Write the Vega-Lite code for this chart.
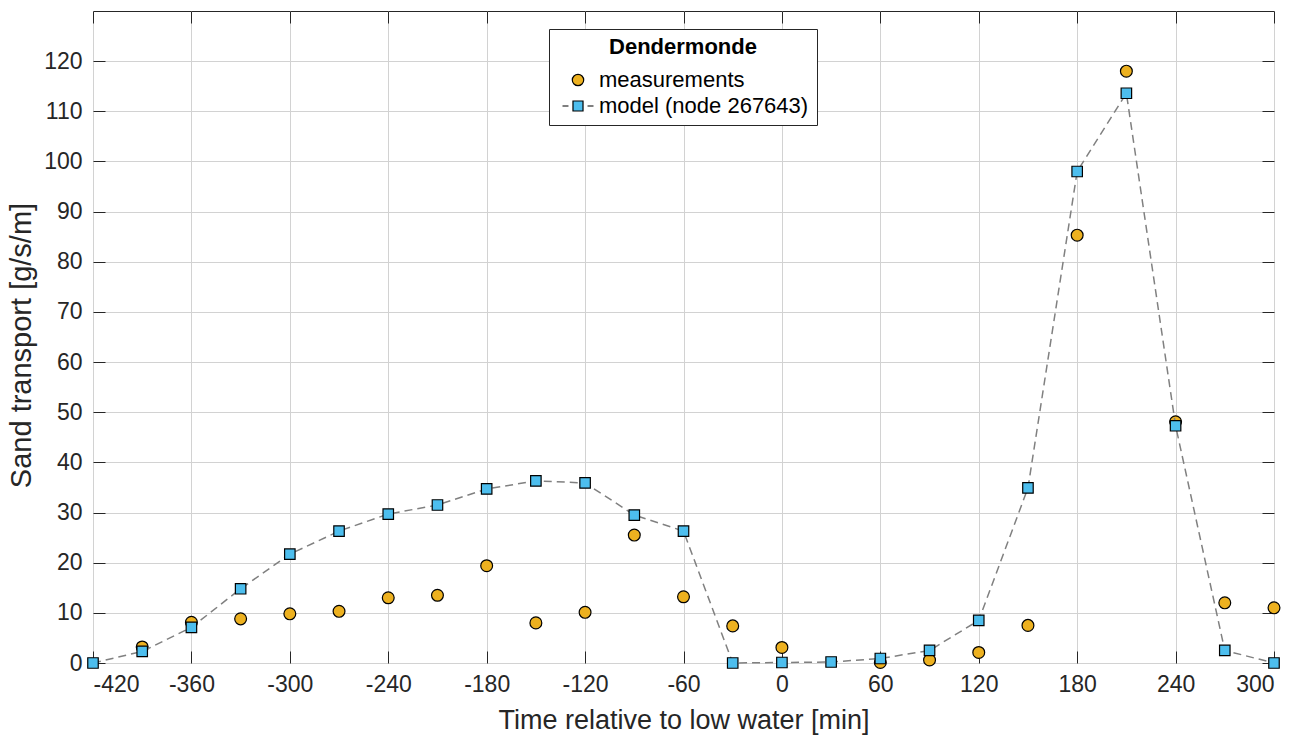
{
  "$schema": "https://vega.github.io/schema/vega-lite/v6.json",
  "width": 1181,
  "height": 652,
  "autosize": {"type": "none"},
  "padding": {"left": 93, "top": 11, "right": 35, "bottom": 79},
  "background": "white",
  "config": {
    "font": "Liberation Sans",
    "view": {"stroke": "#262626", "strokeWidth": 1},
    "axis": {
      "domain": false,
      "gridColor": "#d2d2d2",
      "gridWidth": 1,
      "tickColor": "#262626",
      "tickSize": -12,
      "tickWidth": 1,
      "labelFont": "Liberation Sans",
      "labelFontSize": 23,
      "labelColor": "#262626",
      "titleFont": "Liberation Sans",
      "titleFontWeight": "normal",
      "titleColor": "#262626"
    },
    "legend": {
      "orient": "none",
      "legendX": 456,
      "legendY": 18,
      "strokeColor": "#262626",
      "fillColor": "white",
      "padding": 8,
      "titleFont": "Liberation Sans",
      "titleFontSize": 22,
      "titleFontWeight": "bold",
      "titleColor": "black",
      "titleAnchor": "middle",
      "titlePadding": 10,
      "labelFont": "Liberation Sans",
      "labelFontSize": 22,
      "labelColor": "black",
      "labelLimit": 400,
      "labelOffset": 10,
      "symbolOffset": 10,
      "symbolSize": 130,
      "symbolStrokeColor": "black",
      "symbolStrokeWidth": 1.2,
      "rowPadding": 4
    }
  },
  "data": {
    "values": [
      {"t": -390, "v": 3.2, "series": "measurements"},
      {"t": -360, "v": 8.1, "series": "measurements"},
      {"t": -330, "v": 8.8, "series": "measurements"},
      {"t": -300, "v": 9.8, "series": "measurements"},
      {"t": -270, "v": 10.3, "series": "measurements"},
      {"t": -240, "v": 13.0, "series": "measurements"},
      {"t": -210, "v": 13.5, "series": "measurements"},
      {"t": -180, "v": 19.4, "series": "measurements"},
      {"t": -150, "v": 8.0, "series": "measurements"},
      {"t": -120, "v": 10.1, "series": "measurements"},
      {"t": -90, "v": 25.5, "series": "measurements"},
      {"t": -60, "v": 13.2, "series": "measurements"},
      {"t": -30, "v": 7.4, "series": "measurements"},
      {"t": 0, "v": 3.1, "series": "measurements"},
      {"t": 60, "v": 0.1, "series": "measurements"},
      {"t": 90, "v": 0.6, "series": "measurements"},
      {"t": 120, "v": 2.1, "series": "measurements"},
      {"t": 150, "v": 7.5, "series": "measurements"},
      {"t": 180, "v": 85.3, "series": "measurements"},
      {"t": 210, "v": 118.0, "series": "measurements"},
      {"t": 240, "v": 48.1, "series": "measurements"},
      {"t": 270, "v": 12.0, "series": "measurements"},
      {"t": 300, "v": 11.0, "series": "measurements"},
      {"t": -420, "v": 0.0, "series": "model (node 267643)"},
      {"t": -390, "v": 2.3, "series": "model (node 267643)"},
      {"t": -360, "v": 7.1, "series": "model (node 267643)"},
      {"t": -330, "v": 14.8, "series": "model (node 267643)"},
      {"t": -300, "v": 21.7, "series": "model (node 267643)"},
      {"t": -270, "v": 26.3, "series": "model (node 267643)"},
      {"t": -240, "v": 29.7, "series": "model (node 267643)"},
      {"t": -210, "v": 31.5, "series": "model (node 267643)"},
      {"t": -180, "v": 34.7, "series": "model (node 267643)"},
      {"t": -150, "v": 36.3, "series": "model (node 267643)"},
      {"t": -120, "v": 35.9, "series": "model (node 267643)"},
      {"t": -90, "v": 29.5, "series": "model (node 267643)"},
      {"t": -60, "v": 26.3, "series": "model (node 267643)"},
      {"t": -30, "v": 0.0, "series": "model (node 267643)"},
      {"t": 0, "v": 0.1, "series": "model (node 267643)"},
      {"t": 30, "v": 0.2, "series": "model (node 267643)"},
      {"t": 60, "v": 0.9, "series": "model (node 267643)"},
      {"t": 90, "v": 2.5, "series": "model (node 267643)"},
      {"t": 120, "v": 8.5, "series": "model (node 267643)"},
      {"t": 150, "v": 34.9, "series": "model (node 267643)"},
      {"t": 180, "v": 98.0, "series": "model (node 267643)"},
      {"t": 210, "v": 113.6, "series": "model (node 267643)"},
      {"t": 240, "v": 47.3, "series": "model (node 267643)"},
      {"t": 270, "v": 2.5, "series": "model (node 267643)"},
      {"t": 300, "v": 0.0, "series": "model (node 267643)"}
    ]
  },
  "layer": [
    {
      "transform": [{"filter": "datum.series === 'measurements'"}],
      "mark": {"type": "point", "filled": true, "opacity": 1, "stroke": "black", "strokeWidth": 1.2, "size": 140},
      "encoding": {
        "x": {
          "field": "t", "type": "quantitative",
          "scale": {"domain": [-420, 300], "nice": false, "zero": false},
          "axis": {"orient": "bottom", "values": [-420, -360, -300, -240, -180, -120, -60, 0, 60, 120, 180, 240, 300], "labelExpr": "'' + datum.value", "grid": true, "labelPadding": 22, "title": "Time relative to low water [min]", "titleFontSize": 27, "titlePadding": 11}
        },
        "y": {
          "field": "v", "type": "quantitative",
          "scale": {"domain": [0, 130], "nice": false},
          "axis": {"orient": "left", "values": [0, 10, 20, 30, 40, 50, 60, 70, 80, 90, 100, 110, 120], "labelExpr": "'' + datum.value", "grid": true, "labelPadding": 23, "title": "Sand transport [g/s/m]", "titleFontSize": 29, "titlePadding": 7, "titleY": 334}
        },
        "color": {
          "field": "series", "type": "nominal",
          "scale": {"domain": ["measurements", "model (node 267643)"], "range": ["#EDB120", "#4DBEEE"]},
          "legend": {"title": "Dendermonde"}
        },
        "shape": {
          "field": "series", "type": "nominal",
          "scale": {"domain": ["measurements", "model (node 267643)"], "range": ["circle", "M-2.72,0H-1.67M1.67,0H2.72M-0.88,-0.88H0.88V0.88H-0.88Z"]},
          "legend": {"title": "Dendermonde"}
        }
      }
    },
    {
      "transform": [{"filter": "datum.series !== 'measurements'"}],
      "mark": {"type": "line", "color": "#808080", "strokeWidth": 1.5, "strokeDash": [8, 5]},
      "encoding": {
        "x": {
          "field": "t", "type": "quantitative",
          "axis": {"orient": "top", "values": [-420, -360, -300, -240, -180, -120, -60, 0, 60, 120, 180, 240, 300], "grid": false, "labels": false, "title": null}
        },
        "y": {
          "field": "v", "type": "quantitative",
          "axis": {"orient": "right", "values": [0, 10, 20, 30, 40, 50, 60, 70, 80, 90, 100, 110, 120], "grid": false, "labels": false, "title": null}
        }
      }
    },
    {
      "transform": [{"filter": "datum.series !== 'measurements'"}],
      "mark": {"type": "point", "filled": true, "opacity": 1, "stroke": "black", "strokeWidth": 1.2, "size": 110, "shape": "square"},
      "encoding": {
        "x": {"field": "t", "type": "quantitative", "axis": null},
        "y": {"field": "v", "type": "quantitative", "axis": null},
        "color": {"field": "series", "type": "nominal"}
      }
    }
  ],
  "resolve": {"axis": {"x": "independent", "y": "independent"}}
}
